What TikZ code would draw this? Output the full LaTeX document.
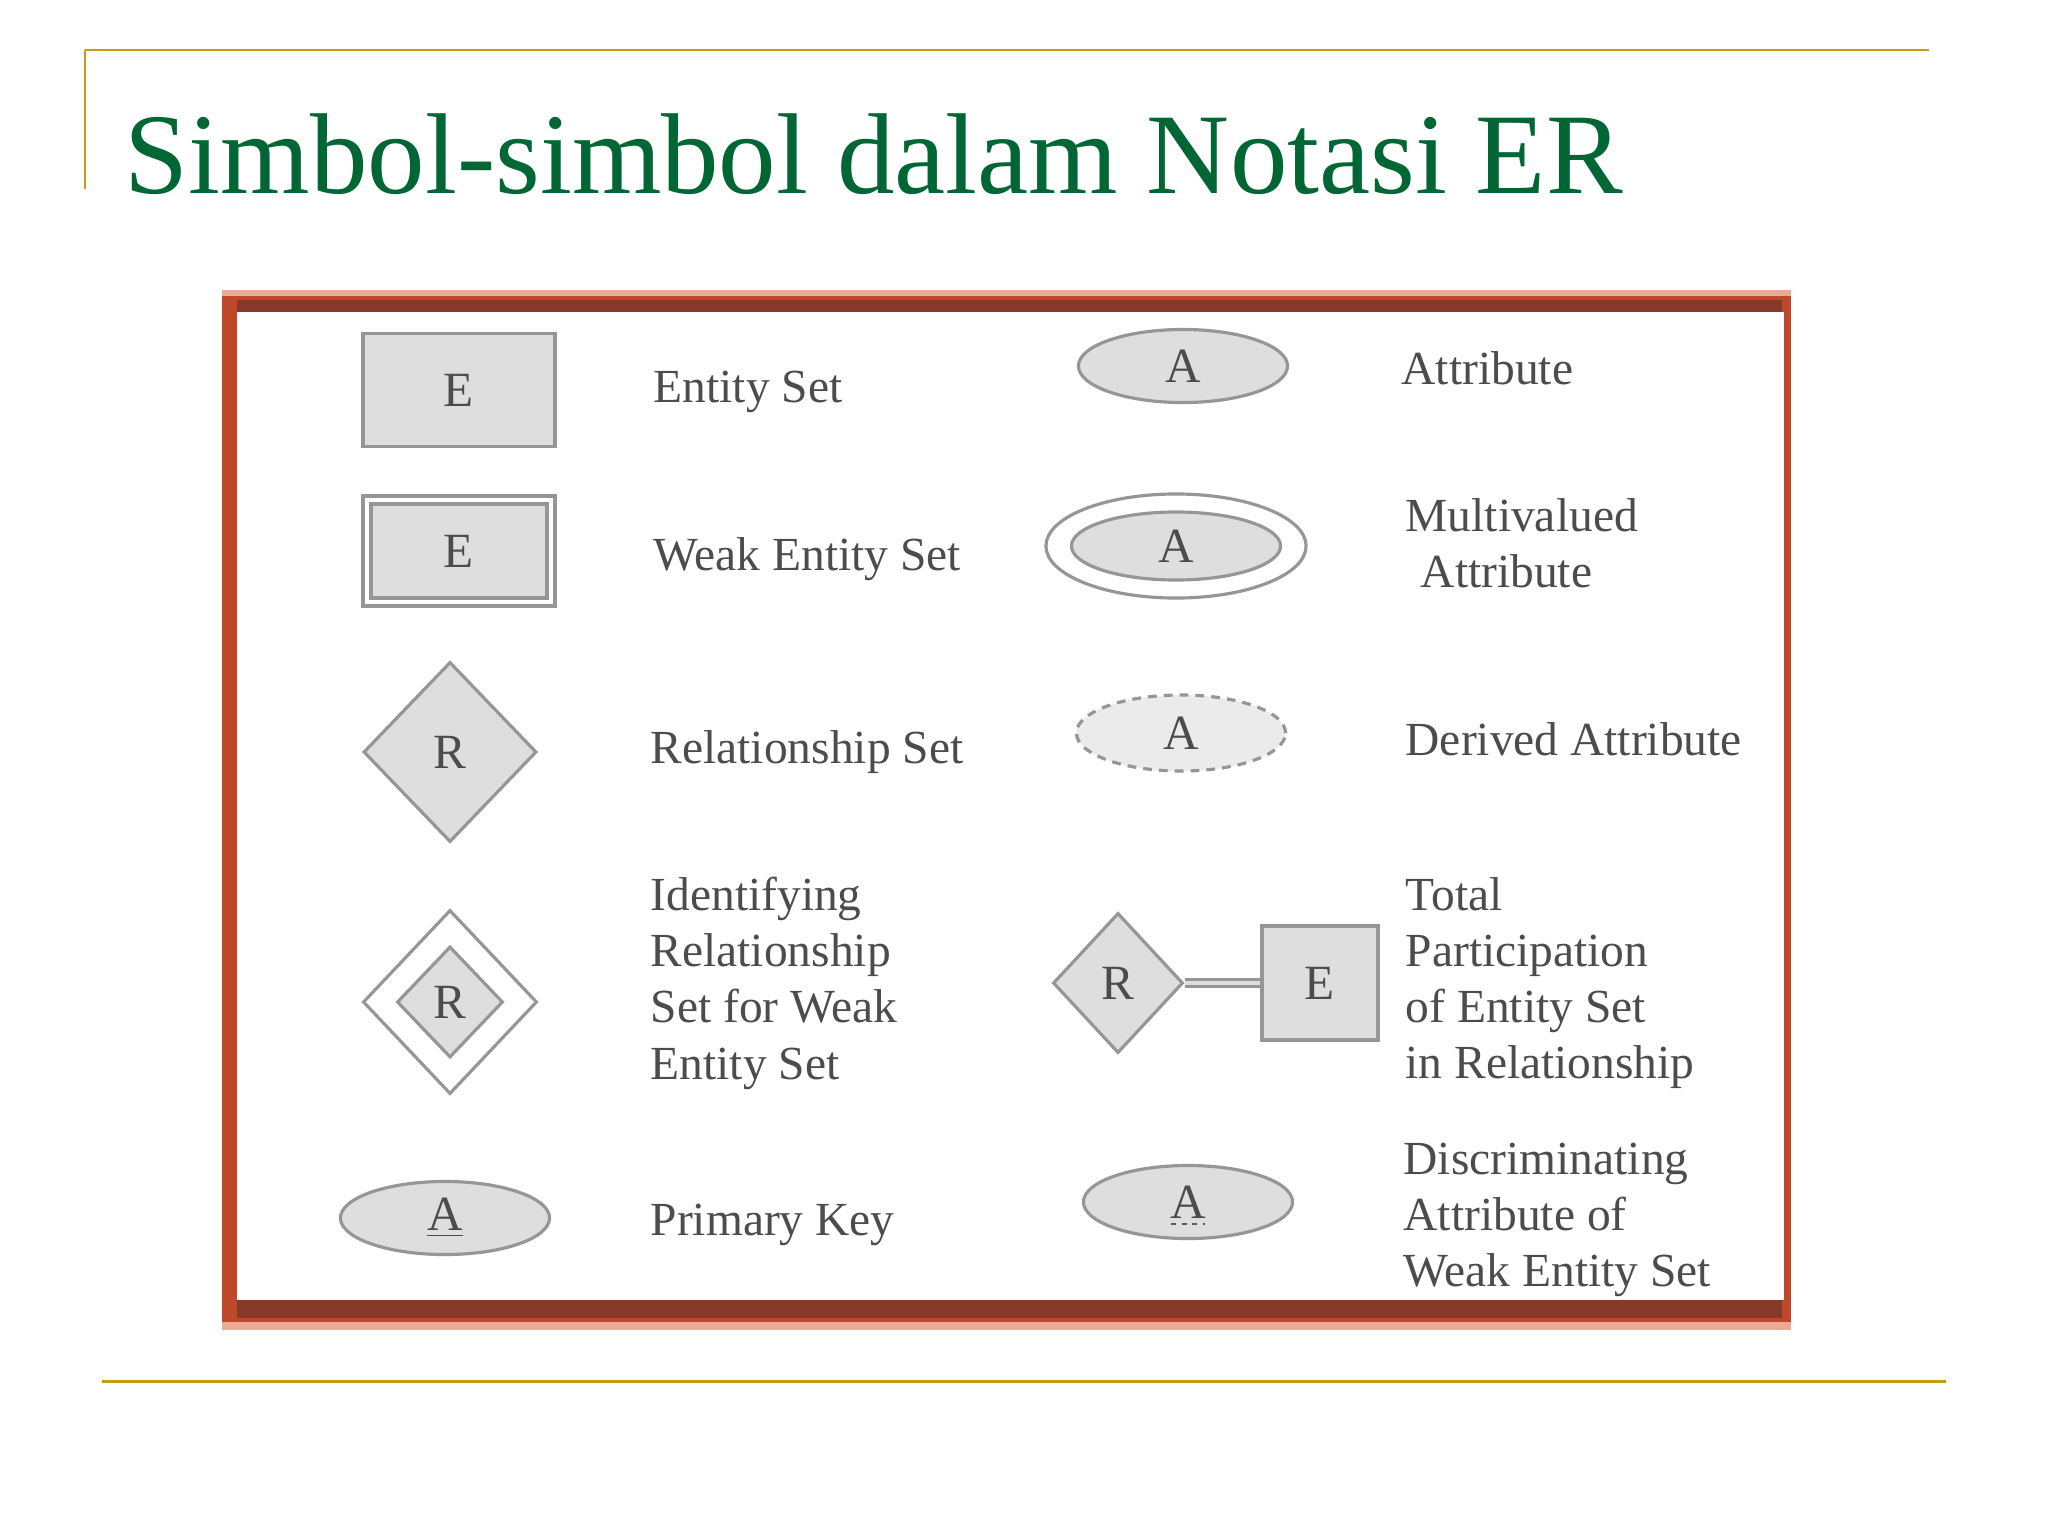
\documentclass[tikz,border=0pt]{standalone}
\usepackage{fontspec}
\setmainfont{Liberation Serif}
\usetikzlibrary{shapes.geometric}

\definecolor{titlegreen}{RGB}{0,102,51}
\definecolor{rulegold}{RGB}{200,154,26}
\definecolor{framered}{RGB}{190,72,42}
\definecolor{framebrown}{RGB}{135,58,42}
\definecolor{framepink}{RGB}{235,170,150}
\definecolor{symfill}{RGB}{222,222,222}
\definecolor{symline}{RGB}{150,150,150}

\begin{document}
\begin{tikzpicture}[x=0.01cm,y=-0.01cm,
  symtext/.style={font=\fontsize{14}{16}\selectfont, text=black!70},
  entbox/.style={draw=symline, fill=symfill, line width=0.9pt, inner sep=0pt,
    minimum width=1.92cm, minimum height=1.13cm, symtext},
  relbox/.style={diamond, draw=symline, fill=symfill, line width=0.9pt, inner sep=0pt,
    minimum width=1.73cm, minimum height=1.80cm, symtext},
  attbox/.style={ellipse, draw=symline, fill=symfill, line width=0.9pt, inner sep=0pt,
    minimum width=2.09cm, minimum height=0.73cm, symtext},
  legend/.style={anchor=west, inner sep=0pt, align=left, text=black!70,
    font=\fontsize{13.5}{16}\selectfont},
]
\useasboundingbox (0,0) rectangle (2048,1536);

% slide rules and title
\draw[rulegold, line width=0.85pt] (85,50) -- (1929,50);
\draw[rulegold, line width=0.6pt] (85,50) -- (85,189);
\draw[rulegold, line width=0.85pt] (102,1381) -- (1946,1381);
\node[anchor=base west, inner sep=0pt, text=titlegreen,
  font=\fontsize{32.7}{36}\selectfont] (title) at (124,193) {Simbol-simbol dalam Notasi ER};

% picture frame
\fill[framered] (222,290) rectangle (1791,1330);
\fill[framepink] (222,290) rectangle (1791,296);
\fill[framebrown] (237,300) rectangle (1782,312);
\fill[framebrown] (237,1300) rectangle (1782,1318);
\fill[framepink] (222,1322) rectangle (1791,1330);
\fill[white] (237,312) rectangle (1784,1300);

% left column
\node[entbox] (ent) at (459,390) {E};
\node[legend] (entlbl) at (653,392) {Entity Set};

\node[entbox, fill=white, minimum height=1.10cm] (weak) at (459,551) {};
\node[entbox, minimum width=1.76cm, minimum height=0.94cm] (weakin) at (weak) {E};
\node[legend] (weaklbl) at (653,559) {Weak Entity Set};

\node[relbox] (rel) at (450,752) {R};
\node[legend] (rellbl) at (650,752) {Relationship Set};

\node[relbox, fill=white, minimum width=1.74cm, minimum height=1.84cm] (idrel) at (450,1002) {};
\node[relbox, minimum width=1.06cm, minimum height=1.11cm] (idrelin) at (idrel) {R};
\node[legend] (idrellbl) at (650,983) {Identifying\\Relationship\\Set for Weak\\Entity Set};

\node[attbox] (pk) at (445,1218) {\underline{A}};
\node[legend] (pklbl) at (650,1225) {Primary Key};

% right column
\node[attbox] (att) at (1183,366) {A};
\node[legend] (attlbl) at (1401,368) {Attribute};

\node[attbox, fill=white, minimum width=2.60cm, minimum height=1.04cm] (multi) at (1176,546) {};
\node[attbox, minimum height=0.68cm] (multiin) at (multi) {A};
\node[legend] (multilbl) at (1405,543) {Multivalued\\\hspace*{0.15cm}Attribute};

\node[attbox, fill=symfill!60, dash pattern=on 2.5pt off 2pt, minimum height=0.76cm] (der) at (1181,733) {A};
\node[legend] (derlbl) at (1405,739) {Derived Attribute};

\node[relbox, minimum width=1.30cm, minimum height=1.40cm] (totrel) at (1118,983) {R};
\node[entbox, minimum width=1.16cm, minimum height=1.14cm] (totent) at (1320,983) {E};
\draw[symline, line width=0.6pt, double=symfill, double distance=1.4pt] (totrel.east) -- (totent.west);
\node[legend] (totlbl) at (1405,983) {Total\\Participation\\of Entity Set\\in Relationship};

\node[attbox] (disc) at (1188,1202) {A};
\draw[black!65, line width=0.6pt, dash pattern=on 1.5pt off 1.5pt]
  ([xshift=-0.17cm, yshift=-0.22cm]disc.center) -- ([xshift=0.17cm, yshift=-0.22cm]disc.center);
\node[legend] (disclbl) at (1403,1220) {Discriminating\\Attribute of\\Weak Entity Set};
\end{tikzpicture}
\end{document}
